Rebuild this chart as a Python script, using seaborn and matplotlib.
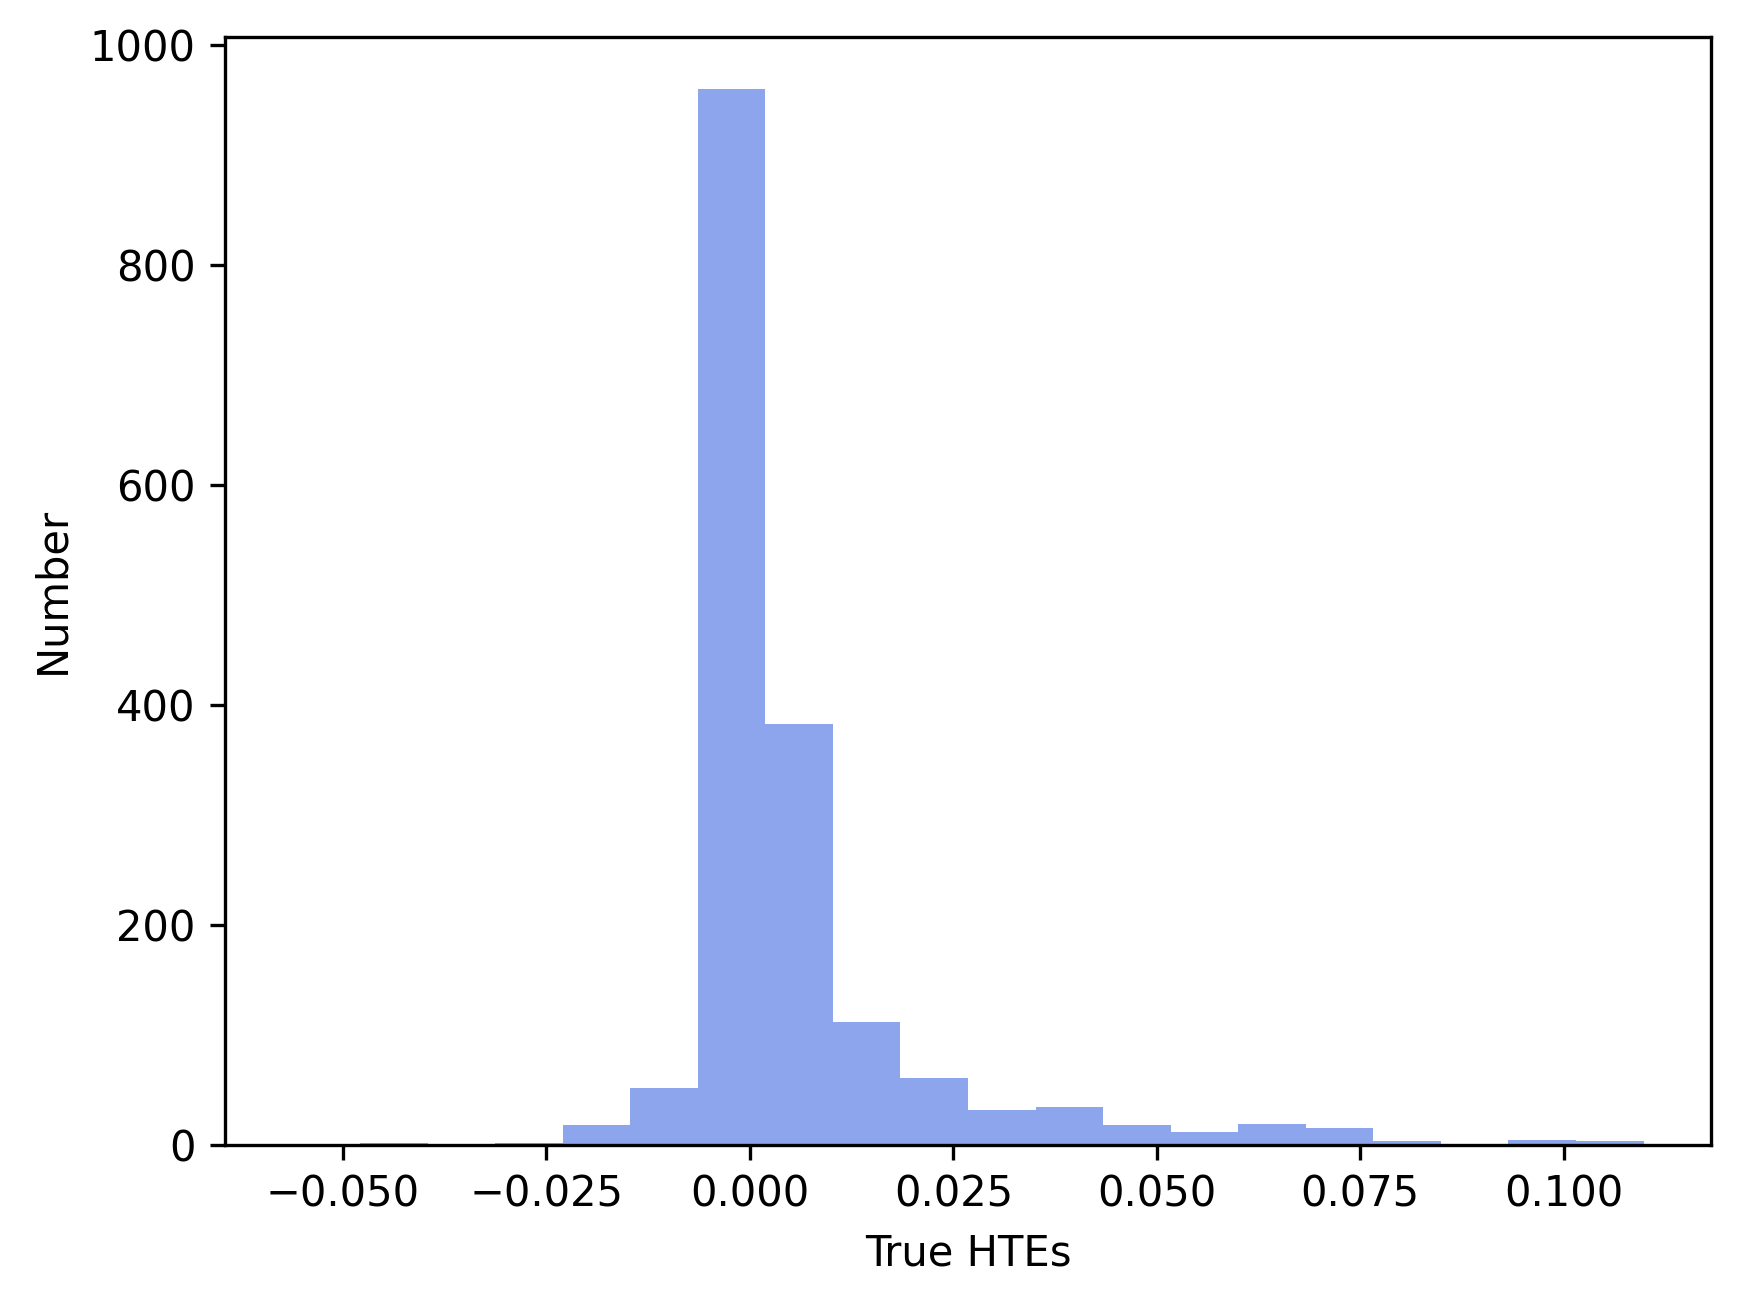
import numpy as np
import pandas as pd
import matplotlib
matplotlib.use("Agg")
import matplotlib.pyplot as plt
import seaborn as sns

# ── Data ────────────────────────────────────────────────────────────
HTE_MIN = -0.0562
HTE_MAX = 0.1098
N_BINS = 20
COUNTS = [1, 2, 1, 2, 18, 52, 960, 383, 112, 61,
          32, 34, 18, 12, 19, 15, 3, 1, 4, 3]

edges = np.linspace(HTE_MIN, HTE_MAX, N_BINS + 1)
df = pd.DataFrame({"hte": (edges[:-1] + edges[1:]) / 2, "count": COUNTS})

# original was a default 10pt figure saved at 300 dpi; scale to 272 dpi
S = 300 / 272
plt.rcParams.update({
    "font.size": 10 * S,
    "axes.linewidth": 0.8 * S,
    "xtick.major.size": 3.5 * S, "ytick.major.size": 3.5 * S,
    "xtick.major.width": 0.8 * S, "ytick.major.width": 0.8 * S,
    "xtick.major.pad": 3.5 * S, "ytick.major.pad": 3.5 * S,
    "axes.labelpad": 4.0 * S,
})

# ── Plot ────────────────────────────────────────────────────────────
fig = plt.figure(figsize=(1741 / 272, 1305 / 272), dpi=272)
fig.subplots_adjust(left=0.1292, right=0.9828, top=0.9720, bottom=0.1228)
ax = fig.add_subplot(111)

sns.histplot(data=df, x="hte", weights="count", bins=N_BINS,
             binrange=(HTE_MIN, HTE_MAX), ax=ax,
             color="royalblue", alpha=0.6, linewidth=0)

ax.set_xlabel("True HTEs")
ax.set_ylabel("Number")

fig.savefig("out.png", dpi=272, facecolor="white")
